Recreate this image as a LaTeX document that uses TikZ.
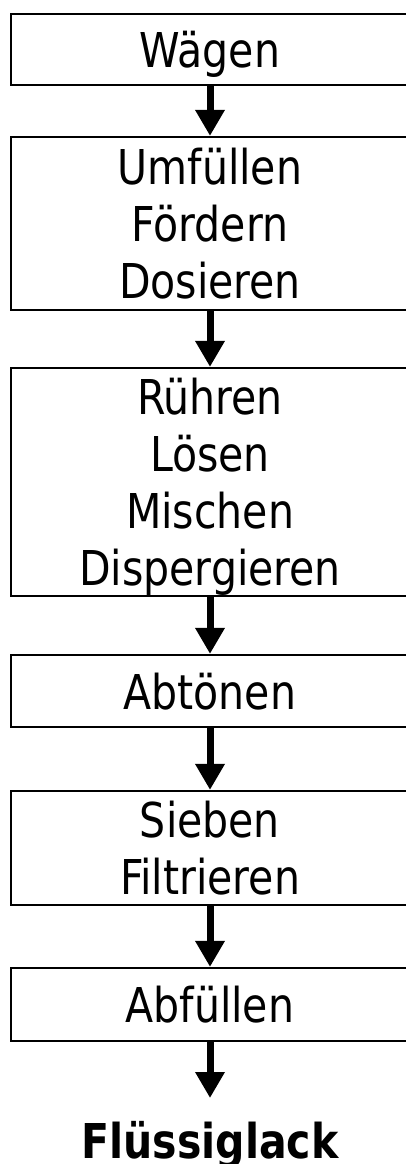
\documentclass[tikz,border=0pt]{standalone}
\usepackage{fontspec}
\setmainfont[FakeStretch=0.95]{DejaVu Sans Condensed}
\usetikzlibrary{arrows.meta}
\begin{document}
\begin{tikzpicture}[x=1pt,y=-1pt,
  stepbox/.style={draw=black, line width=2.2pt, minimum width=398pt, inner sep=0pt, text depth=0pt, align=center, font=\fontsize{48}{57}\selectfont},
  flow/.style={line width=7pt, -{Triangle[width=28pt,length=26pt]}},
  result/.style={inner sep=0pt, anchor=base, font=\fontsize{48}{57}\selectfont\bfseries}
]
\useasboundingbox (0,0) rectangle (406,1164);
\clip (0,0) rectangle (406,1164);
\node[stepbox, minimum height=71pt] (b1) at (210,49.5) {Wägen};
\node[stepbox, minimum height=173pt] (b2) at (210,223.5) {Umfüllen\\Fördern\\Dosieren};
\node[stepbox, minimum height=228pt] (b3) at (210,482) {Rühren\\Lösen\\Mischen\\Dispergieren};
\node[stepbox, minimum height=72pt] (b4) at (210,691) {Abtönen};
\node[stepbox, minimum height=114pt] (b5) at (210,848) {Sieben\\Filtrieren};
\node[stepbox, minimum height=73pt] (b6) at (210,1004.5) {Abfüllen};
\node[result] (res) at (210,1158) {Flüssiglack};
\coordinate (end) at (210,1098);
\draw[flow] (b1.south) -- (b2.north);
\draw[flow] (b2.south) -- (b3.north);
\draw[flow] (b3.south) -- (b4.north);
\draw[flow] (b4.south) -- (b5.north);
\draw[flow] (b5.south) -- (b6.north);
\draw[flow] (b6.south) -- (end);
\end{tikzpicture}
\end{document}
